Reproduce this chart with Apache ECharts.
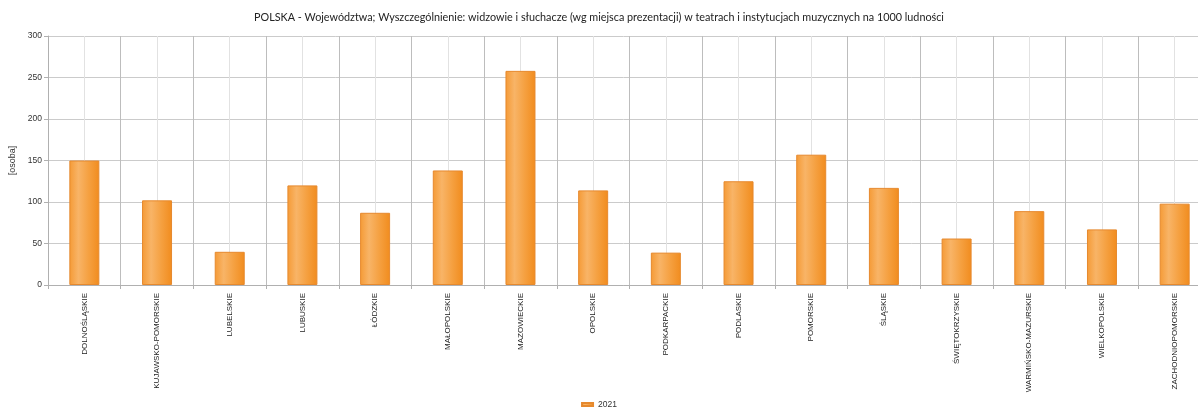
<!DOCTYPE html>
<html>
<head>
<meta charset="utf-8">
<script src="https://cdn.jsdelivr.net/npm/echarts@6/dist/echarts.min.js"></script>
<style>
html,body{margin:0;padding:0;background:#fff;}
#chart{width:1198px;height:407px;}
</style>
</head>
<body>
<div id="chart"></div>
<script>
const titleText = 'POLSKA - Województwa; Wyszczególnienie: widzowie i słuchacze (wg miejsca prezentacji) w teatrach i instytucjach muzycznych na 1000 ludności';
const categories = ['DOLNOŚLĄSKIE','KUJAWSKO-POMORSKIE','LUBELSKIE','LUBUSKIE','ŁÓDZKIE','MAŁOPOLSKIE','MAZOWIECKIE','OPOLSKIE','PODKARPACKIE','PODLASKIE','POMORSKIE','ŚLĄSKIE','ŚWIĘTOKRZYSKIE','WARMIŃSKO-MAZURSKIE','WIELKOPOLSKIE','ZACHODNIOPOMORSKIE'];
const seriesName = '2021';
const values2021 = [150, 102, 40, 120, 87, 138, 258, 114, 39, 125, 157, 117, 56, 89, 67, 98];
const yAxisName = '[osoba]';

const chart = echarts.init(document.getElementById('chart'), null, {renderer:'canvas'});
const labelFont = '"Liberation Sans", Arial, sans-serif';
chart.setOption({
  animation: false,
  backgroundColor: '#ffffff',
  title: {
    text: titleText, left: 'center', top: 7,
    textStyle: {fontFamily: 'Lato, sans-serif', fontSize: 10.8, fontWeight: 'normal', color: '#222'}
  },
  legend: {
    data: [seriesName], bottom: -7, left: 'center',
    icon: 'rect', itemWidth: 11, itemHeight: 3, itemGap: 5,
    textStyle: {fontFamily: labelFont, fontSize: 8.5, color: '#333'}
  },
  grid: {left: 48, right: -13, top: 36, bottom: 122, containLabel: false, outerBoundsMode: 'none'},
  xAxis: {
    type: 'category', data: categories, boundaryGap: true,
    axisLine: {lineStyle: {color: '#b0b0b0'}},
    axisTick: {show: true, length: 4, lineStyle: {color: '#b0b0b0'}},
    axisLabel: {rotate: 90, interval: 0, margin: 8, fontFamily: labelFont, fontSize: 8, color: '#222'},
    splitLine: {show: true, lineStyle: {color: '#bdbdbd', width: 1}}
  },
  yAxis: {
    type: 'value', min: 0, max: 300, interval: 50,
    name: yAxisName, nameLocation: 'middle', nameRotate: 90, nameGap: 31,
    nameTextStyle: {fontFamily: labelFont, fontSize: 9, color: '#333'},
    axisLine: {show: true, lineStyle: {color: '#b0b0b0'}},
    axisTick: {show: true, length: 4, lineStyle: {color: '#b0b0b0'}},
    axisLabel: {margin: 6, fontFamily: labelFont, fontSize: 8.5, color: '#333'},
    splitLine: {show: true, lineStyle: {color: '#cbcbcb', width: 1}}
  },
  series: [
    {
      name: 'centers', type: 'line', data: [], z: 1, silent: true,
      markLine: {
        silent: true, symbol: ['none','none'], z: 1,
        label: {show: false},
        lineStyle: {color: '#e2e2e2', type: 'solid', width: 1},
        emphasis: {disabled: true},
        data: categories.map(c => ({xAxis: c}))
      }
    },
    {
      name: seriesName, type: 'bar', data: values2021, barWidth: 30, z: 3,
      itemStyle: {
        borderColor: '#e6892e', borderWidth: 1,
        color: new echarts.graphic.LinearGradient(0,0,1,0,[
          {offset: 0, color: '#f59a35'},
          {offset: 0.3, color: '#f8b467'},
          {offset: 0.65, color: '#f5a040'},
          {offset: 1, color: '#f18c1e'}
        ])
      }
    }
  ]
});
</script>
</body>
</html>
